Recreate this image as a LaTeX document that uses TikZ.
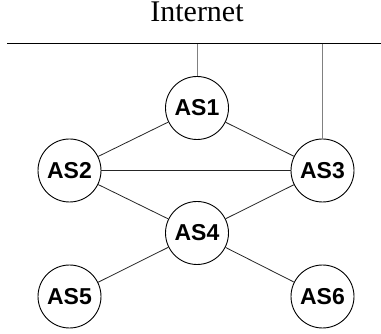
\documentclass[tikz,border=0pt]{standalone}
\usepackage{fontspec}
\setmainfont{Liberation Serif}
\setsansfont{Liberation Sans}
\begin{document}
\begin{tikzpicture}[x=1pt,y=-1pt,
  asnode/.style={circle,draw=black,line width=0.9pt,minimum size=63pt,inner sep=0pt,fill=white,font=\sffamily\bfseries\fontsize{23}{23}\selectfont},
  link/.style={line width=0.8pt,draw=black!85},
  uplink/.style={line width=1pt,draw=black!50},
  bus/.style={line width=1pt,draw=black}]
\useasboundingbox (0,0) rectangle (381,334);
\node[font=\fontsize{30}{30}\selectfont,anchor=base,inner sep=0pt] (inet) at (197,22) {Internet};
\coordinate (busL) at (7,44);
\coordinate (busR) at (381,44);
\coordinate (t1) at (197,44);
\coordinate (t3) at (322.5,44);
\node[asnode] (as1) at (197,108) {AS1};
\node[asnode] (as2) at (69.5,170.5) {AS2};
\node[asnode] (as3) at (322.5,170.5) {AS3};
\node[asnode] (as4) at (197,233) {AS4};
\node[asnode] (as5) at (69.5,296.5) {AS5};
\node[asnode] (as6) at (322.5,296.5) {AS6};
\draw[bus] (busL) -- (busR);
\draw[uplink] (t1) -- (as1);
\draw[uplink] (t3) -- (as3);
\draw[link] (as1) -- (as2);
\draw[link] (as1) -- (as3);
\draw[link] (as2) -- (as3);
\draw[link] (as2) -- (as4);
\draw[link] (as3) -- (as4);
\draw[link] (as4) -- (as5);
\draw[link] (as4) -- (as6);
\end{tikzpicture}
\end{document}
